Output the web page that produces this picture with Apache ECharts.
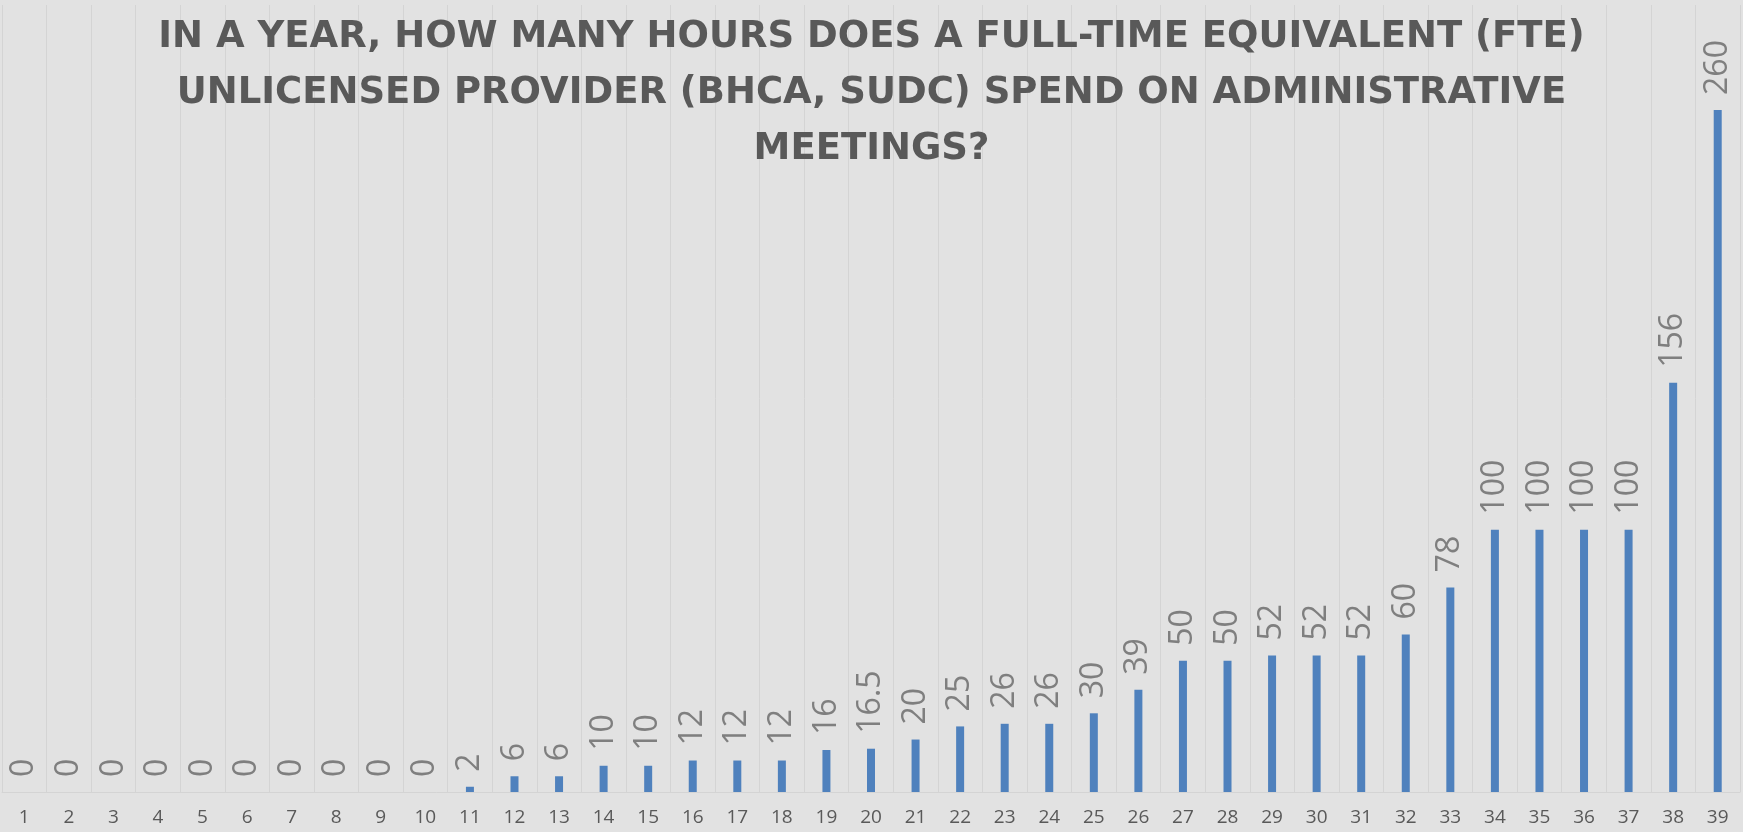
<!DOCTYPE html>
<html>
<head>
<meta charset="utf-8">
<script src="https://cdn.jsdelivr.net/npm/echarts@6/dist/echarts.min.js"></script>
<style>
  html, body { margin: 0; padding: 0; background: #e2e2e2; }
  #chart { width: 1743px; height: 832px; }
</style>
</head>
<body>
<div id="chart"></div>
<script>
// respondents 1..39, sorted by hours
const categories = ['1','2','3','4','5','6','7','8','9','10','11','12','13','14','15','16','17','18','19','20',
  '21','22','23','24','25','26','27','28','29','30','31','32','33','34','35','36','37','38','39']
const hours = [0,0,0,0,0,0,0,0,0,0,2,6,6,10,10,12,12,12,16,16.5,
  20,25,26,26,30,39,50,50,52,52,52,60,78,100,100,100,100,156,260]

const titleText = 'IN A YEAR, HOW MANY HOURS DOES A FULL-TIME EQUIVALENT (FTE)\n' +
  'UNLICENSED PROVIDER (BHCA, SUDC) SPEND ON ADMINISTRATIVE\nMEETINGS?'

const COLORS = {
  bg:    '#e2e2e2',
  bar:   '#4f81bd',
  grid:  '#d4d4d4',
  label: '#7f7f7f',
  title: '#595959',
}

const chart = echarts.init(document.getElementById('chart'), null, { renderer: 'canvas' })

chart.setOption({
  backgroundColor: COLORS.bg,
  animation: false,
  title: {
    text: titleText,
    left: 'center',
    top: 4,
    textStyle: {
      fontFamily: 'DejaVu Sans',
      fontWeight: 'bold',
      fontSize: 37,
      lineHeight: 56,
      color: COLORS.title,
    },
  },
  grid: { left: 2, right: 3, top: 5, bottom: 40 },
  xAxis: {
    type: 'category',
    data: categories,
    axisLine: { lineStyle: { color: COLORS.grid, width: 1 } },
    axisTick: { show: false },
    axisLabel: { color: COLORS.title, fontSize: 19, fontFamily: 'Open Sans', margin: 16, interval: 0 },
    splitLine: { show: true, lineStyle: { color: COLORS.grid, width: 1 } },
  },
  yAxis: {
    type: 'value',
    min: 0,
    max: 300,
    show: false,
    splitLine: { show: false },
  },
  series: [{
    type: 'bar',
    data: hours,
    barWidth: 8,
    itemStyle: { color: COLORS.bar },
    label: {
      show: true,
      position: 'top',
      rotate: 90,
      align: 'left',
      verticalAlign: 'middle',
      distance: 15,
      color: COLORS.label,
      fontSize: 32,
      fontFamily: 'Open Sans',
    },
  }],
})
</script>
</body>
</html>
